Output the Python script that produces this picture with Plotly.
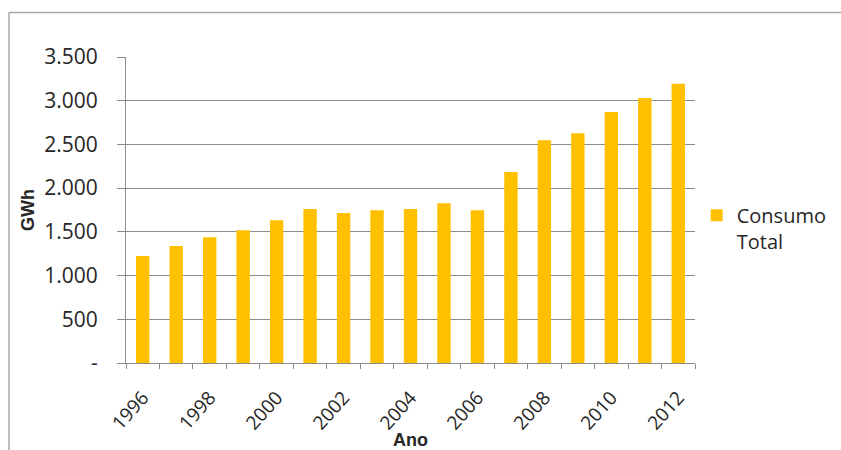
import plotly.graph_objects as go

# Consumo total de energia elétrica por ano (GWh)
anos = [str(a) for a in range(1996, 2013)]
consumo = [1224, 1338, 1437, 1518, 1632, 1762, 1716, 1746, 1762,
           1826, 1746, 2185, 2547, 2627, 2871, 3031, 3195]

y_ticks = [0, 500, 1000, 1500, 2000, 2500, 3000, 3500]
y_labels = ["-", "500", "1.000", "1.500", "2.000", "2.500", "3.000", "3.500"]
x_labels = [a if int(a) % 2 == 0 else "" for a in anos]

FONT = "Open Sans"
TITLE_FONT = "Liberation Sans"
GRAY = "#8c8c8c"
TEXT = "#262626"

# Área de plotagem em pixels
L, R, T, B = 126, 146, 57, 87
PLOT_W = 841 - L - R
PLOT_H = 450 - T - B

fig = go.Figure()
fig.add_trace(go.Bar(
    x=anos, y=consumo, name="Consumo<br>Total",
    marker=dict(color="#FFC000", line=dict(width=0)),
    width=0.4,
))

fig.update_layout(
    width=841, height=450,
    margin=dict(l=L, r=R, t=T, b=B, autoexpand=False),
    paper_bgcolor="white", plot_bgcolor="white",
    font=dict(family=FONT, size=17, color=TEXT),
    showlegend=True,
    legend=dict(x=1.003, y=0.44, xanchor="left", yanchor="middle",
                valign="top", font=dict(family=FONT, size=20, color=TEXT),
                itemwidth=30, tracegroupgap=0, bgcolor="rgba(0,0,0,0)"),
    xaxis=dict(
        type="category", tickvals=anos, ticktext=x_labels,
        tickangle=-48, tickson="boundaries", ticks="outside", ticklen=5,
        tickcolor=GRAY, showline=True, linecolor=GRAY, linewidth=1,
        showgrid=False, tickfont=dict(family=FONT, size=19, color=TEXT),
        ticklabelstandoff=15,
        title=dict(text="<b>Ano</b>", font=dict(family=TITLE_FONT, size=18, color=TEXT), standoff=0),
    ),
    yaxis=dict(
        range=[0, 3500], tickvals=y_ticks, ticktext=y_labels,
        ticks="outside", ticklen=8, tickcolor=GRAY,
        showline=True, linecolor=GRAY, linewidth=1,
        showgrid=True, gridcolor=GRAY, gridwidth=1, zeroline=False,
        tickfont=dict(family=FONT, size=21, color=TEXT),
        ticklabelstandoff=15,
        title=dict(text="<b>GWh</b>", font=dict(family=TITLE_FONT, size=18, color=TEXT), standoff=4),
    ),
)

# Moldura do gráfico: bordas superior e esquerda
frame_x = (9 - L) / PLOT_W
frame_y = (450 - B - 12.5) / PLOT_H
fig.add_shape(type="line", xref="paper", yref="paper",
              x0=frame_x, x1=1.4, y0=frame_y, y1=frame_y,
              line=dict(color="#a6a6a6", width=1.5))
fig.add_shape(type="line", xref="paper", yref="paper",
              x0=frame_x, x1=frame_x, y0=-0.4, y1=frame_y,
              line=dict(color="#a6a6a6", width=1.5))

fig.write_html("out.html")
